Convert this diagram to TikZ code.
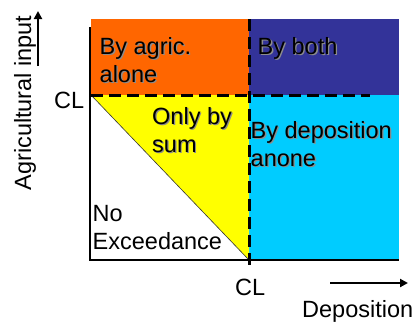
\documentclass[tikz,border=0pt]{standalone}
\usepackage{fontspec}
\setmainfont{Liberation Sans}
\usetikzlibrary{arrows.meta}
\definecolor{orangeR}{HTML}{FF6600}
\definecolor{blueR}{HTML}{333399}
\definecolor{cyanR}{HTML}{00CCFF}
\definecolor{yellowR}{HTML}{FFFF00}
\begin{document}
\begin{tikzpicture}[x=1pt,y=-1pt,
  lbl/.style={font=\fontsize{23.5}{28}\selectfont, inner sep=0pt, anchor=base west, align=left},
  shad/.style={lbl, text=black!45},
  axisline/.style={line width=2pt},
  dashline/.style={line width=3pt, dash pattern=on 12pt off 6pt},
  axarrow/.style={line width=2pt, -{Triangle[length=8pt,width=8pt]}}]
\useasboundingbox (0,0) rectangle (417,322);
% regions
\fill[orangeR] (91,19) rectangle (249,95);
\fill[blueR] (249,19) rectangle (399,95);
\fill[cyanR] (249,95) rectangle (399,260);
\fill[yellowR] (91,95) -- (249,95) -- (249,260) -- cycle;
\coordinate (clY) at (91,95);
\coordinate (clX) at (249,260);
\draw[line width=0.6pt, black!80] (clY) -- (clX);
% axes
\coordinate (ytop) at (90,27);
\coordinate (origin) at (90,260);
\coordinate (xright) at (399,260);
\draw[axisline] (ytop) -- (origin) -- (xright);
% dashed CL lines
\coordinate (hEnd) at (370,95);
\coordinate (vTop) at (249,19);
\coordinate (vBot) at (249,268);
\draw[dashline] (clY) -- (hEnd);
\draw[dashline] (vTop) -- (vBot);
% axis arrows
\coordinate (yaA) at (38,66);
\coordinate (yaB) at (38,11);
\draw[axarrow] (yaA) -- (yaB);
\coordinate (xaA) at (330,283);
\coordinate (xaB) at (408,283);
\draw[axarrow] (xaA) -- (xaB);
% shadows
\node[shad] (agricS) at (100.8,83.2) {By agric.\\alone};
\node[shad] (bothS) at (258.8,55.2) {By both};
\node[shad] (sumS) at (153.2,153.2) {Only by\\sum};
\node[shad] (depS) at (251.8,167.2) {By deposition\\anone};
% labels
\node[lbl] (agric) at (99.5,82) {By agric.\\alone};
\node[lbl] (both) at (257.5,54) {By both};
\node[lbl] (sum) at (152,152) {Only by\\sum};
\node[lbl] (dep) at (250.5,166) {By deposition\\anone};
\node[lbl] (noex) at (92.5,249) {No\\Exceedance};
\node[lbl] (cly) at (54,108) {CL};
\node[lbl] (clx) at (235,295) {CL};
\node[lbl] (depo) at (302,317) {Deposition};
\node[lbl, anchor=base, rotate=90] (agri) at (31,103) {Agricultural input};
\end{tikzpicture}
\end{document}
